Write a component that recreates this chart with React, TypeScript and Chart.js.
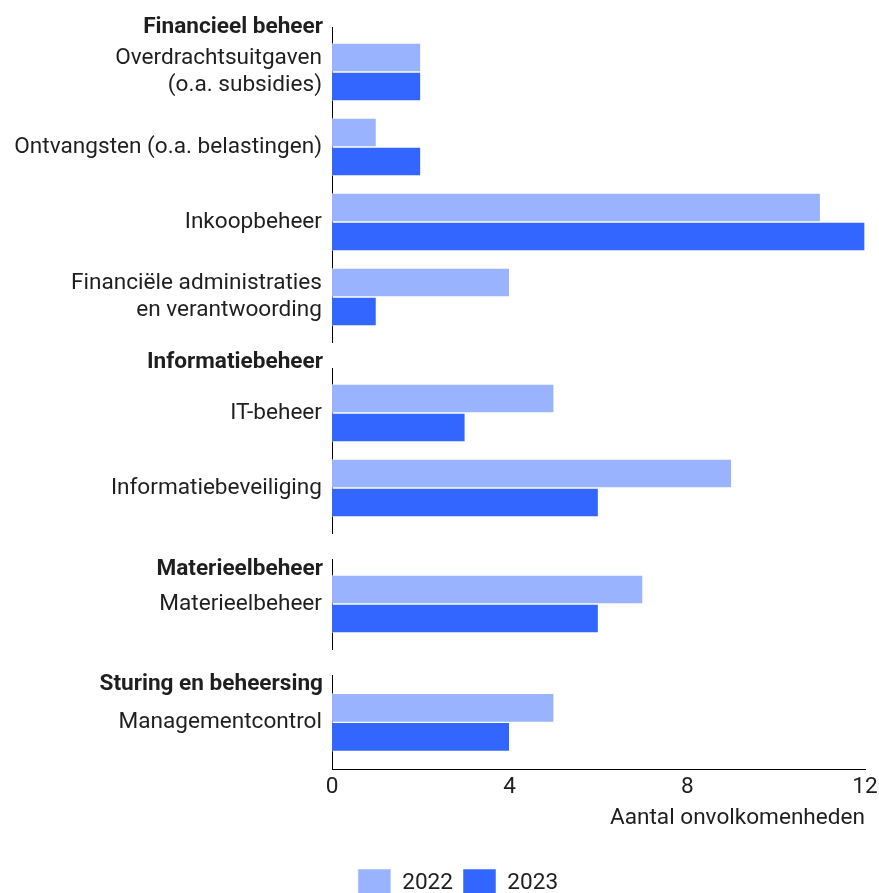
import React, { useEffect, useRef } from "react";
import { Chart, registerables } from "chart.js";

Chart.register(...registerables);

// ---- data ----
const groupTitles = ["Financieel beheer", "Informatiebeheer", "Materieelbeheer", "Sturing en beheersing"];
const financieelCategories = [
  ["Overdrachtsuitgaven", "(o.a. subsidies)"],
  "Ontvangsten (o.a. belastingen)",
  "Inkoopbeheer",
  ["Financiële administraties", "en verantwoording"],
];
const informatieCategories = ["IT-beheer", "Informatiebeveiliging"];
const materieelCategories = ["Materieelbeheer"];
const sturingCategories = ["Managementcontrol"];

const financieel2022 = [2, 1, 11, 4];
const financieel2023 = [2, 2, 12, 1];
const informatie2022 = [5, 9];
const informatie2023 = [3, 6];
const materieel2022 = [7];
const materieel2023 = [6];
const sturing2022 = [5];
const sturing2023 = [4];

const seriesLabels = ["2022", "2023"];
const xTicks = [0, 4, 8, 12];
const xAxisTitle = "Aantal onvolkomenheden";

// ---- styling / layout ----
const COLORS = ["#99b3ff", "#3366ff"];
const FONT = "Roboto";
const TEXT = "#1f1f1f";
const FONT_SIZE = 22.6;
const AXIS_LEFT = 332; // page x of the value axis
const PAD_RIGHT = 14;
const PAGE_W = 879;

type Group = {
  title: string;
  categories: any[];
  a: number[];
  b: number[];
  height: number;
  offsetLeft: number;
  padTop: number;
  padBottom: number;
  headingOffset: number;
  last: boolean;
};

const groups: Group[] = [
  { title: groupTitles[0], categories: financieelCategories, a: financieel2022, b: financieel2023, height: 345, offsetLeft: 0, padTop: 27, padBottom: 3, headingOffset: 5.5, last: false },
  { title: groupTitles[1], categories: informatieCategories, a: informatie2022, b: informatie2023, height: 191, offsetLeft: 0, padTop: 23, padBottom: 3, headingOffset: 0, last: false },
  { title: groupTitles[2], categories: materieelCategories, a: materieel2022, b: materieel2023, height: 116, offsetLeft: 0, padTop: 23, padBottom: 3, headingOffset: 15.5, last: false },
  { title: groupTitles[3], categories: sturingCategories, a: sturing2022, b: sturing2023, height: 255, offsetLeft: 51, padTop: 23, padBottom: 0, headingOffset: 15, last: true },
];

const headingPlugin = {
  id: "groupHeading",
  afterDraw(chart: any, _args: any, opts: any) {
    const { ctx, chartArea } = chart;
    ctx.save();
    ctx.font = `bold ${FONT_SIZE}px ${FONT}`;
    ctx.fillStyle = TEXT;
    ctx.textAlign = "right";
    ctx.textBaseline = "alphabetic";
    ctx.fillText(opts.text, chartArea.left - 9, chartArea.top + opts.offset);
    ctx.restore();
  },
};

function GroupChart({ g }: { g: Group }) {
  const ref = useRef<HTMLCanvasElement | null>(null);
  useEffect(() => {
    if (!ref.current) return;
    const chart = new Chart(ref.current, {
      type: "bar",
      data: {
        labels: g.categories,
        datasets: [
          { label: seriesLabels[0], data: g.a, backgroundColor: COLORS[0], borderColor: "rgba(255,255,255,0.5)", borderWidth: 1 },
          { label: seriesLabels[1], data: g.b, backgroundColor: COLORS[1], borderColor: "rgba(255,255,255,0.5)", borderWidth: 1 },
        ],
      },
      options: {
        indexAxis: "y",
        responsive: false,
        animation: false,
        events: [],
        barThickness: 29,
        layout: { padding: { left: 0, right: PAD_RIGHT, top: g.padTop, bottom: g.padBottom } },
        scales: {
          y: {
            type: "category",
            grid: { display: false, drawTicks: false },
            border: { display: true, color: "#000", width: 1 },
            ticks: { color: TEXT, padding: 10, font: { family: FONT, size: FONT_SIZE, lineHeight: 1.2 } },
            afterFit: (s: any) => {
              s.width = AXIS_LEFT - g.offsetLeft;
              s.paddingTop = 0;
              s.paddingBottom = 0;
            },
            afterBuildTicks: (s: any) => {
              s._startValue -= 0.1;
              s._valueRange += 0.2;
            },
          },
          x: {
            type: "linear",
            display: g.last,
            min: 0,
            max: 12,
            grid: { display: false, drawTicks: false },
            border: { display: true, color: "#000", width: 1 },
            afterBuildTicks: (s: any) => {
              s.ticks = xTicks.map((v) => ({ value: v }));
            },
            afterFit: (s: any) => {
              s.paddingLeft = 0;
              s.paddingRight = 0;
            },
            ticks: { color: TEXT, padding: 4, maxRotation: 0, font: { family: FONT, size: FONT_SIZE } },
            title: {
              display: true,
              text: xAxisTitle,
              align: "end",
              color: TEXT,
              font: { family: FONT, size: FONT_SIZE, lineHeight: 1.15 },
              padding: { top: 0, bottom: 28 },
            },
          },
        },
        plugins: {
          legend: {
            display: g.last,
            position: "bottom",
            labels: { boxWidth: 33, boxHeight: 28, color: TEXT, padding: 10, font: { family: FONT, size: FONT_SIZE } },
          },
          tooltip: { enabled: false },
          groupHeading: { text: g.title, offset: g.headingOffset },
        } as any,
      } as any,
      plugins: [headingPlugin],
    });
    return () => chart.destroy();
  }, [g]);
  return (
    <canvas
      ref={ref}
      width={PAGE_W - g.offsetLeft}
      height={g.height}
      style={{ display: "block", marginLeft: g.offsetLeft }}
    />
  );
}

export default function App() {
  return (
    <div style={{ position: "absolute", left: 0, top: 0, width: PAGE_W, height: 893, overflow: "hidden", background: "#fff" }}>
      {groups.map((g, i) => (
        <GroupChart key={i} g={g} />
      ))}
    </div>
  );
}
